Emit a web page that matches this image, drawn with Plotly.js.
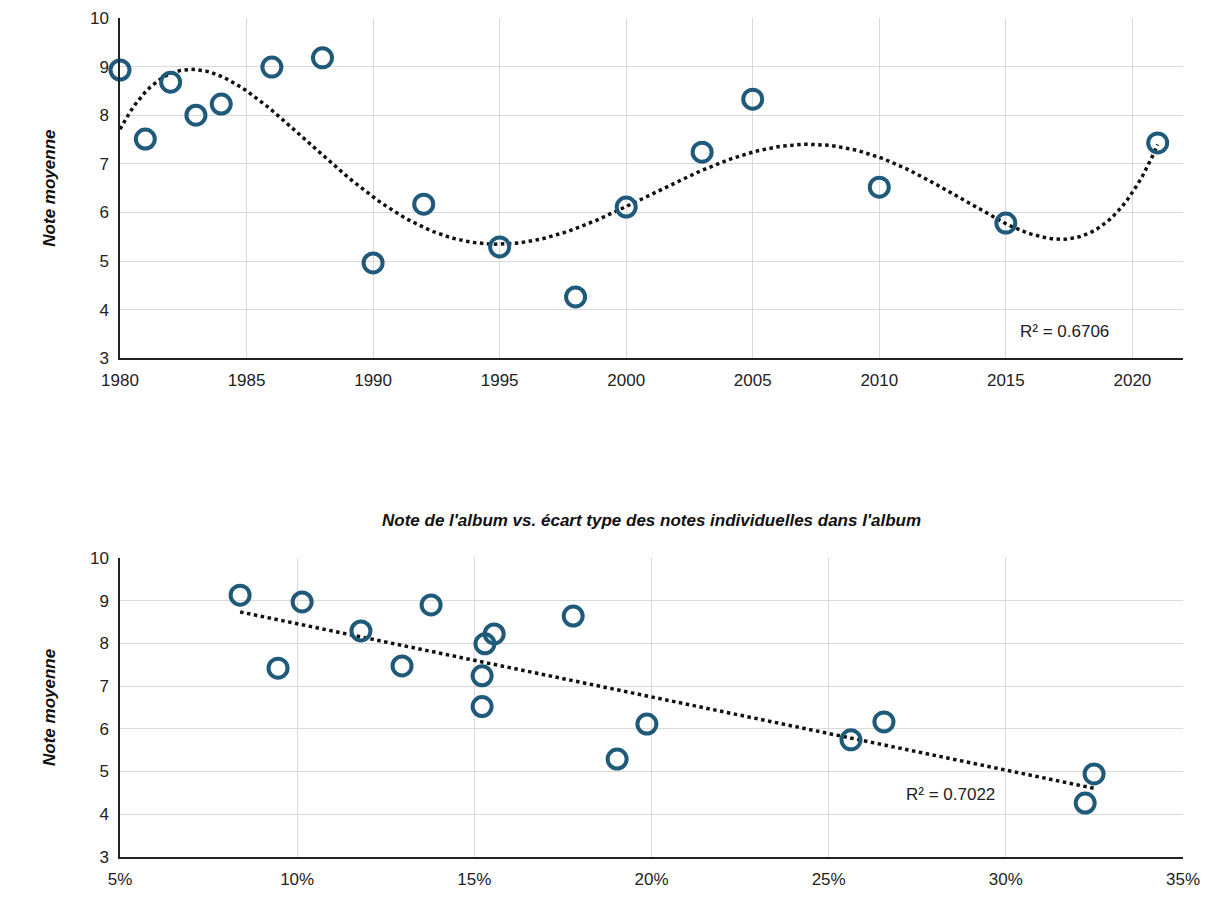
<!DOCTYPE html>
<html>
<head>
<meta charset="utf-8">
<script src="https://cdn.plot.ly/plotly-3.0.1.min.js"></script>
<style>body{margin:0;background:#fff}</style>
</head>
<body>
<div id="chart" style="width:1214px;height:900px"></div>
<script>
// Top chart: note moyenne par année
const years = [1980, 1981, 1982, 1983, 1984, 1986, 1988, 1990, 1992, 1995, 1998, 2000, 2003, 2005, 2010, 2015, 2021];
const notesYear = [8.93, 7.51, 8.68, 8.0, 8.23, 8.99, 9.18, 4.96, 6.17, 5.29, 4.26, 6.11, 7.24, 8.33, 6.52, 5.78, 7.43];

// Bottom chart: note vs écart type
const ecartType = [0.0839, 0.1014, 0.0946, 0.118, 0.1296, 0.1378, 0.153, 0.1556, 0.1522, 0.1522, 0.1779, 0.1903, 0.1987, 0.2563, 0.2656, 0.3249, 0.3224];
const notesEcart = [9.13, 8.97, 7.42, 8.29, 7.47, 8.9, 7.99, 8.22, 6.52, 7.24, 8.64, 5.29, 6.11, 5.74, 6.16, 4.94, 4.26];

const r2Top = 'R² = 0.6706';
const r2Bottom = 'R² = 0.7022';
const markerColor = '#1f5a7a';

// least squares polynomial fit
function polyfit(xs, ys, deg) {
  const n = deg + 1;
  const A = Array.from({length: n}, () => new Array(n + 1).fill(0));
  xs.forEach((x, k) => {
    for (let i = 0; i < n; i++) {
      for (let j = 0; j < n; j++) A[i][j] += Math.pow(x, i + j);
      A[i][n] += ys[k] * Math.pow(x, i);
    }
  });
  for (let i = 0; i < n; i++) {
    let p = i;
    for (let r = i + 1; r < n; r++) if (Math.abs(A[r][i]) > Math.abs(A[p][i])) p = r;
    [A[i], A[p]] = [A[p], A[i]];
    for (let r = 0; r < n; r++) {
      if (r === i) continue;
      const f = A[r][i] / A[i][i];
      for (let c = i; c <= n; c++) A[r][c] -= f * A[i][c];
    }
  }
  return A.map((row, i) => row[n] / row[i]);
}
const evalPoly = (c, x) => c.reduce((s, a, i) => s + a * Math.pow(x, i), 0);

// top trend: degree 5 on centred years
const xc = years.map(y => (y - 2000) / 20);
const cTop = polyfit(xc, notesYear, 5);
const trendX = [], trendY = [];
for (let y = 1980; y <= 2021.001; y += 0.2) { trendX.push(y); trendY.push(evalPoly(cTop, (y - 2000) / 20)); }

// bottom trend: linear
const cBot = polyfit(ecartType, notesEcart, 1);
const xMin = Math.min(...ecartType), xMax = Math.max(...ecartType);

const axisFont = {family: 'Liberation Sans, Arial', size: 17, color: '#222'};
const titleFont = {family: 'Liberation Sans, Arial', size: 17, color: '#111', weight: 'bold', style: 'italic'};
const common = {showgrid: true, gridcolor: '#d9d9d9', gridwidth: 1, tickfont: axisFont, zeroline: false, showline: true, linecolor: '#222', linewidth: 1.5, ticks: 'outside', ticklen: 6, tickcolor: 'rgba(0,0,0,0)'};

const marker = {symbol: 'circle-open', size: 19, color: markerColor, line: {width: 4, color: markerColor}};

Plotly.newPlot('chart', [
  {x: trendX, y: trendY, mode: 'lines', line: {color: '#111', width: 3.5, dash: 'dot'}, xaxis: 'x', yaxis: 'y', hoverinfo: 'skip'},
  {x: years, y: notesYear, mode: 'markers', marker: marker, xaxis: 'x', yaxis: 'y', cliponaxis: false},
  {x: [xMin, xMax], y: [evalPoly(cBot, xMin), evalPoly(cBot, xMax)], mode: 'lines', line: {color: '#111', width: 3.5, dash: 'dot'}, xaxis: 'x2', yaxis: 'y2', hoverinfo: 'skip'},
  {x: ecartType, y: notesEcart, mode: 'markers', marker: marker, xaxis: 'x2', yaxis: 'y2', cliponaxis: false}
], {
  width: 1214, height: 900,
  margin: {l: 120, r: 31, t: 0, b: 0},
  showlegend: false,
  plot_bgcolor: '#fff', paper_bgcolor: '#fff',
  xaxis: Object.assign({}, common, {range: [1980, 2022], dtick: 5, tick0: 1980, anchor: 'y', domain: [0, 1]}),
  yaxis: Object.assign({}, common, {range: [3, 10], dtick: 1, domain: [0.602, 0.98], anchor: 'x',
    title: {text: 'Note moyenne', font: titleFont, standoff: 30}}),
  xaxis2: Object.assign({}, common, {range: [0.05, 0.35], dtick: 0.05, tickformat: '.0%', anchor: 'y2', domain: [0, 1]}),
  yaxis2: Object.assign({}, common, {range: [3, 10], dtick: 1, domain: [0.048, 0.38], anchor: 'x2',
    title: {text: 'Note moyenne', font: titleFont, standoff: 30}}),
  annotations: [
    {text: r2Top, x: 2017.3, y: 3.55, xref: 'x', yref: 'y', showarrow: false, font: axisFont},
    {text: r2Bottom, x: 0.2845, y: 4.45, xref: 'x2', yref: 'y2', showarrow: false, font: axisFont},
    {text: "Note de l'album vs. écart type des notes individuelles dans l'album", x: 0.5, y: 1 - 520 / 900,
      xref: 'paper', yref: 'paper', showarrow: false,
      font: {family: 'Liberation Sans, Arial', size: 17, color: '#111', weight: 'bold', style: 'italic'}}
  ]
}, {displayModeBar: false});
</script>
</body>
</html>
